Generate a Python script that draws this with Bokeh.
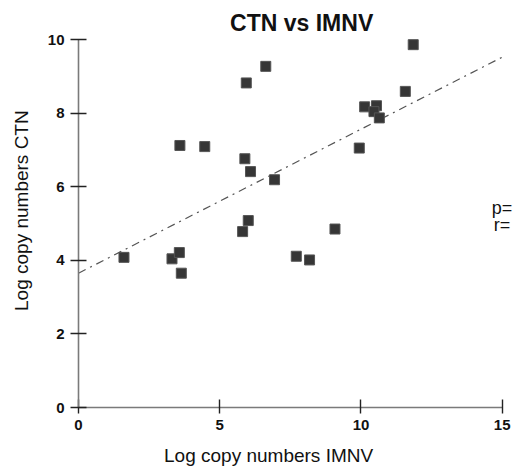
import math
from bokeh.plotting import figure
from bokeh.models import Range1d, Label
from bokeh.embed import file_html
from bokeh.resources import INLINE

# Data
imnv = [1.61, 3.31, 3.57, 3.64, 3.59, 4.47, 6.63, 5.94, 5.89, 6.09, 6.94, 6.01,
        5.81, 9.08, 7.71, 8.18, 11.85, 11.57, 10.13, 10.55, 10.46, 10.65, 9.94]
ctn = [4.08, 4.04, 4.21, 3.65, 7.12, 7.09, 9.27, 8.82, 6.76, 6.41, 6.19, 5.08,
       4.78, 4.85, 4.11, 4.01, 9.86, 8.59, 8.17, 8.20, 8.04, 7.87, 7.05]
fit_x = [0, 15]
fit_y = [3.65, 9.52]
x_ticks = [0, 5, 10, 15]
y_ticks = [0, 2, 4, 6, 8, 10]

FONT = "Liberation Sans"

p = figure(width=514, height=467, output_backend="svg", toolbar_location=None,
           x_range=Range1d(-2.761, 15.435), y_range=Range1d(-1.63, 11.06),
           min_border_left=0, min_border_right=0, min_border_top=0,
           min_border_bottom=0)
p.outline_line_color = None
p.grid.visible = False
p.background_fill_color = "white"
p.border_fill_color = "white"

p.line(fit_x, fit_y, line_color="#555555", line_width=1.2, line_dash="8 5 2 5")
p.scatter(imnv, ctn, marker="square", size=10, fill_color="#363636",
          line_color="#555555", line_width=1)

for ax in (p.xaxis[0], p.yaxis[0]):
    ax.fixed_location = 0
    ax.axis_line_color = "#7a7a7a"
    ax.axis_line_width = 1.6
    ax.major_tick_line_color = "#222222"
    ax.major_tick_line_width = 1.4
    ax.minor_tick_line_color = None
    ax.major_label_text_font = FONT
    ax.major_label_text_font_size = "15px"
    ax.major_label_text_font_style = "bold"
    ax.major_label_text_color = "#111111"

p.xaxis.ticker = x_ticks
p.xaxis.bounds = (0, 15)
p.xaxis.major_tick_in = 8
p.xaxis.major_tick_out = 6
p.xaxis.major_label_standoff = 6

p.yaxis.ticker = y_ticks
p.yaxis.bounds = (0, 10)
p.yaxis.major_tick_in = 8
p.yaxis.major_tick_out = 8
p.yaxis.major_label_standoff = 6

# Title
p.add_layout(Label(x=7.9, y=10.46, text="CTN vs IMNV", text_font=FONT,
                   text_font_size="23px", text_font_style="bold",
                   text_align="center", text_baseline="middle",
                   text_color="#111111"))
# Axis titles
p.add_layout(Label(x=6.73, y=-1.30, text="Log copy numbers IMNV", text_font=FONT,
                   text_font_size="19px", text_align="center",
                   text_baseline="middle", text_color="#111111"))
p.add_layout(Label(x=-2.02, y=5.35, text="Log copy numbers CTN", text_font=FONT,
                   text_font_size="19px", text_align="center", angle=math.pi / 2,
                   text_baseline="middle", text_color="#111111"))
# Stats text at the right edge
p.add_layout(Label(x=14.63, y=5.41, text="p=", text_font=FONT,
                   text_font_size="18px", text_align="left",
                   text_baseline="alphabetic", text_color="#111111"))
p.add_layout(Label(x=14.70, y=4.95, text="r=", text_font=FONT,
                   text_font_size="18px", text_align="left",
                   text_baseline="alphabetic", text_color="#111111"))

open("out.html", "w").write(file_html(p, INLINE))
